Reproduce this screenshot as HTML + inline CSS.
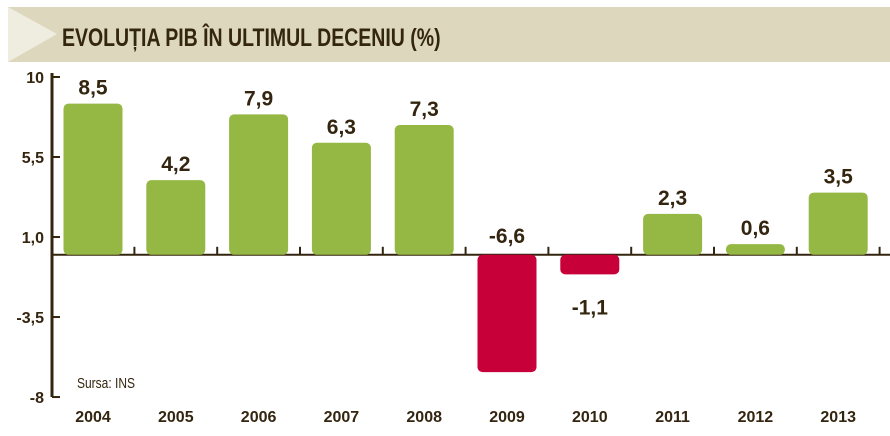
<!DOCTYPE html>
<html><head><meta charset="utf-8"><style>
body{margin:0;background:#fff;width:890px;height:431px;overflow:hidden;font-family:"Liberation Sans",sans-serif}
svg text{font-family:"Liberation Sans",sans-serif;font-weight:bold;fill:#33250f}
</style></head><body>
<svg width="890" height="431">
<rect x="8" y="7" width="882" height="55" fill="#ddd8bd"/>
<polygon points="8,7 57,34 8,62" fill="#efece0"/>
<text x="62" y="46" font-size="25" transform="translate(62 0) scale(0.78 1) translate(-62 0)">EVOLUȚIA PIB ÎN ULTIMUL DECENIU (%)</text>
<g id="axis"></g>
<g id="bars"></g>
<text x="77" y="388" font-size="15" font-weight="normal" style="font-weight:normal" transform="translate(77 0) scale(0.8 1) translate(-77 0)">Sursa: INS</text>
</svg>
<script>
const years=["2004","2005","2006","2007","2008","2009","2010","2011","2012","2013"];
const values=[8.5,4.2,7.9,6.3,7.3,-6.6,-1.1,2.3,0.6,3.5];
const valueLabels=["8,5","4,2","7,9","6,3","7,3","-6,6","-1,1","2,3","0,6","3,5"];
const tickValues=[10,5.5,1,-3.5,-8];
const tickLabels=["10","5,5","1,0","-3,5","-8"];
const NS="http://www.w3.org/2000/svg";
const y=v=>254.8-v*17.78;
const x=i=>93+i*82.8;
const bw=59;
function mk(tag,attrs,parent){const e=document.createElementNS(NS,tag);for(const k in attrs)e.setAttribute(k,attrs[k]);parent.appendChild(e);return e;}
const ax=document.getElementById('axis'),bg=document.getElementById('bars');
let l=mk('line',{x1:52,y1:y(10)-4,x2:52,y2:y(-8),stroke:'#33250f','stroke-width':3},ax);


l=mk('line',{x1:51,y1:y(0),x2:890,y2:y(0),stroke:'#33250f','stroke-width':2},ax);


tickValues.forEach((v,i)=>{
 const t=mk('line',{x1:52,y1:y(v),x2:60,y2:y(v),stroke:'#33250f','stroke-width':2},ax);
 
 
 const tx=mk('text',{x:44,y:y(v)+6,'font-size':16,'text-anchor':'end'},ax);
 tx.textContent=tickLabels[i];
 
 
});
for(let i=0;i<years.length;i++){
 const sx=x(i)+41.4;
 const t=mk('line',{x1:sx,y1:y(0),x2:sx,y2:y(0)-8,stroke:'#33250f','stroke-width':2},ax);
 
 
}
years.forEach((yr,i)=>{
 const v=values[i],top=Math.min(y(v),y(0)),h=Math.abs(y(v)-y(0));
 const r=mk('rect',{x:x(i)-bw/2,y:top,width:bw,height:Math.max(h,4),rx:5,fill:v>=0?'#95b844':'#c8003a'},bg);
 
 
 const ly=v>=0?y(v)-9:(i===5?y(0)-12:y(v)+40);
 const lb=mk('text',{x:x(i),y:ly,'font-size':21,'text-anchor':'middle'},bg);
 lb.textContent=valueLabels[i];
 
 
 const yl=mk('text',{x:x(i),y:422,'font-size':16,'text-anchor':'middle'},bg);
 yl.textContent=yr;
 
 
});
</script>
</body></html>
